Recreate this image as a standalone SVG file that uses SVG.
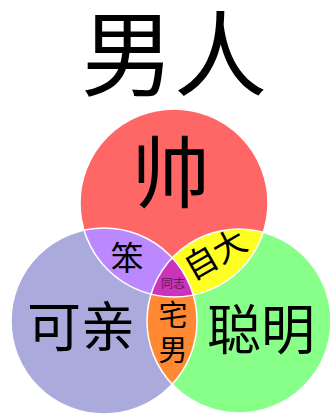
<svg xmlns="http://www.w3.org/2000/svg" width="330" height="416" viewBox="0 0 330 416">
<style>
text{font-family:"Noto Sans CJK SC","Noto Sans",sans-serif;fill:#000;text-anchor:middle}
.edge{fill:none;stroke:#fff;stroke-width:1.5}
</style>
<defs>
<circle id="cR" cx="174" cy="203" r="94"/>
<circle id="cL" cx="104" cy="321" r="93"/>
<circle id="cG" cx="239" cy="321" r="92"/>
<clipPath id="clipR"><use href="#cR"/></clipPath>
<clipPath id="clipL"><use href="#cL"/></clipPath>
<clipPath id="clipG"><use href="#cG"/></clipPath>
</defs>
<rect width="330" height="416" fill="#fff"/>
<g id="title"><text x="174" y="89" font-size="93">男人</text></g>
<g id="circle-shuai"><use href="#cR" fill="#ff6666"/></g>
<g id="circle-keqin"><use href="#cL" fill="#aaaadd"/></g>
<g id="circle-congming"><use href="#cG" fill="#88ff88"/></g>
<g id="overlap-ben" clip-path="url(#clipR)"><use href="#cL" fill="#bb88ff"/></g>
<g id="overlap-zida" clip-path="url(#clipR)"><use href="#cG" fill="#ffff22"/></g>
<g id="overlap-zhainan" clip-path="url(#clipL)"><use href="#cG" fill="#ff8833"/></g>
<g id="overlap-tongzhi" clip-path="url(#clipR)"><g clip-path="url(#clipL)"><use href="#cG" fill="#cc33bb"/></g></g>
<g id="edges"><use href="#cR" class="edge"/><use href="#cL" class="edge"/><use href="#cG" class="edge"/></g>
<g id="labels">
<text x="171" y="202" font-size="78">帅</text>
<text x="81" y="347" font-size="54">可亲</text>
<text x="261" y="350" font-size="54">聪明</text>
<text x="127" y="270" font-size="33">笨</text>
<text x="0" y="0" font-size="33" transform="translate(215,254) rotate(-30) translate(0,12)">自大</text>
<text x="173" y="288" font-size="12" style="fill:#5a1a5a">同志</text>
<text x="173" y="326" font-size="29">宅<tspan x="173" dy="35">男</tspan></text>
</g>
</svg>
